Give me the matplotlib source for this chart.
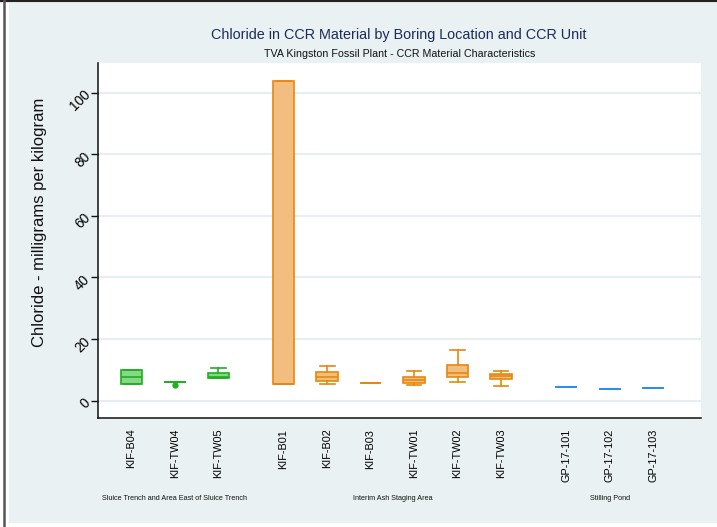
import matplotlib
matplotlib.use("Agg")
import matplotlib.pyplot as plt
import matplotlib.transforms as mtransforms
from matplotlib.patches import Rectangle
from matplotlib.lines import Line2D

plt.rcParams['font.family'] = ['Liberation Sans', 'DejaVu Sans']

# Boring locations and their CCR unit groups
locations = ["KIF-B04", "KIF-TW04", "KIF-TW05",
             "KIF-B01", "KIF-B02", "KIF-B03", "KIF-TW01", "KIF-TW02", "KIF-TW03",
             "GP-17-101", "GP-17-102", "GP-17-103"]
units = ["Sluice Trench and Area East of Sluice Trench"] * 3 + \
        ["Interim Ash Staging Area"] * 6 + ["Stilling Pond"] * 3
unit_names = ["Sluice Trench and Area East of Sluice Trench",
              "Interim Ash Staging Area", "Stilling Pond"]

# Box summary statistics (mg/kg)
whisker_low = [5.4, 6.0, 7.5, 5.4, 5.5, 5.85, 5.0, 6.1, 4.7, 4.55, 3.9, 4.0]
quart1      = [5.4, 6.0, 7.5, 5.4, 6.3, 5.85, 5.65, 7.8, 6.9, 4.55, 3.9, 4.0]
median      = [7.8, 6.0, 7.8, 5.4, 7.7, 5.85, 6.8, 8.9, 7.9, 4.55, 3.9, 4.0]
quart3      = [9.9, 6.0, 9.1, 103.8, 9.2, 5.85, 7.6, 11.5, 8.8, 4.55, 3.9, 4.0]
whisker_hi  = [9.9, 6.0, 10.5, 103.8, 11.3, 5.85, 9.7, 16.5, 9.7, 4.55, 3.9, 4.0]
outliers    = [[], [5.1], [], [], [], [], [], [], [], [], [], []]

unit_style = {
    unit_names[0]: dict(edge="#1fae1f", face="#86d886"),
    unit_names[1]: dict(edge="#e8870e", face="#f1be80"),
    unit_names[2]: dict(edge="#2b8cf2", face="#8cc0f7"),
}

W, H = 717, 527
fig = plt.figure(figsize=(W / 100, H / 100), dpi=100, facecolor="white")

# Page background and frame
bg = "#e9f1f3"
fig.patches.append(Rectangle((9 / W, 1 - 523 / H), (W - 9) / W, (523 - 3) / H,
                             transform=fig.transFigure, facecolor=bg, edgecolor="none", zorder=-10))
fig.add_artist(Line2D([0, 1], [1 - 0.8 / H, 1 - 0.8 / H], transform=fig.transFigure,
                      color="#222222", lw=1.6))
fig.add_artist(Line2D([3.8 / W, 3.8 / W], [0, 1], transform=fig.transFigure,
                      color="#555555", lw=1.8))

L, R, T, B = 97.7, 700.7, 62.7, 418.3
ax = fig.add_axes([L / W, 1 - B / H, (R - L) / W, (B - T) / H])
ax.set_facecolor("white")

# x positions: groups separated by an extra half step
positions = []
pos = 0.0
prev = None
for u in units:
    if prev is not None:
        pos += 1.5 if u != prev else 1.0
    positions.append(pos)
    prev = u

for i, name in enumerate(locations):
    st = unit_style[units[i]]
    stats = [dict(med=median[i], q1=quart1[i], q3=quart3[i],
                  whislo=whisker_low[i], whishi=whisker_hi[i],
                  fliers=outliers[i], label=name)]
    ax.bxp(stats, positions=[positions[i]], widths=0.5, capwidths=0.34,
           patch_artist=True, showfliers=True,
           boxprops=dict(facecolor=st["face"], edgecolor=st["edge"], linewidth=1.2),
           medianprops=dict(color=st["edge"], linewidth=1.2),
           whiskerprops=dict(color=st["edge"], linewidth=1.2),
           capprops=dict(color=st["edge"], linewidth=1.2),
           flierprops=dict(marker="o", markersize=3.5, markerfacecolor=st["edge"],
                           markeredgecolor=st["edge"]))

ax.set_xlim(-0.775, 13.09)
ax.set_ylim(-5.7, 109.7)
ax.set_yticks([0, 20, 40, 60, 80, 100])
ax.yaxis.grid(True, color="#e6eef0", lw=1.5)
ax.set_axisbelow(True)
for s in ["top", "right"]:
    ax.spines[s].set_visible(False)
for s in ["left", "bottom"]:
    ax.spines[s].set_color("#111111")
    ax.spines[s].set_linewidth(1.1)

ax.tick_params(axis="y", length=5, width=1, color="#111111", labelsize=9.8, pad=2)
for lab in ax.get_yticklabels():
    lab.set_rotation(45)
    lab.set_ha("right")
    lab.set_va("center")
    lab.set_rotation_mode("anchor")

ax.set_xticks(positions)
ax.set_xticklabels(locations, rotation=90, fontsize=7.8, va="top", ha="center")
ax.tick_params(axis="x", length=0, pad=7.5)

# CCR unit labels under each group
trans = mtransforms.blended_transform_factory(ax.transData, fig.transFigure)
for name in unit_names:
    xs = [p for p, u in zip(positions, units) if u == name]
    ax.text(sum(xs) / len(xs), 1 - 498 / H, name, transform=trans,
            ha="center", va="center", fontsize=5.2, color="#111111")

fig.text((L + R) / 2 / W, 1 - 35 / H,
         "Chloride in CCR Material by Boring Location and CCR Unit",
         ha="center", va="center", fontsize=10.4, color="#1c2b5a")
fig.text((L + R) / 2 / W, 1 - 54 / H,
         "TVA Kingston Fossil Plant - CCR Material Characteristics",
         ha="center", va="center", fontsize=7.7, color="#111111")
fig.text(40 / W, 1 - 222 / H, "Chloride - milligrams per kilogram",
         rotation=90, ha="center", va="center", fontsize=12, color="#111111")

fig.savefig("out.png", dpi=100, facecolor=fig.get_facecolor())
